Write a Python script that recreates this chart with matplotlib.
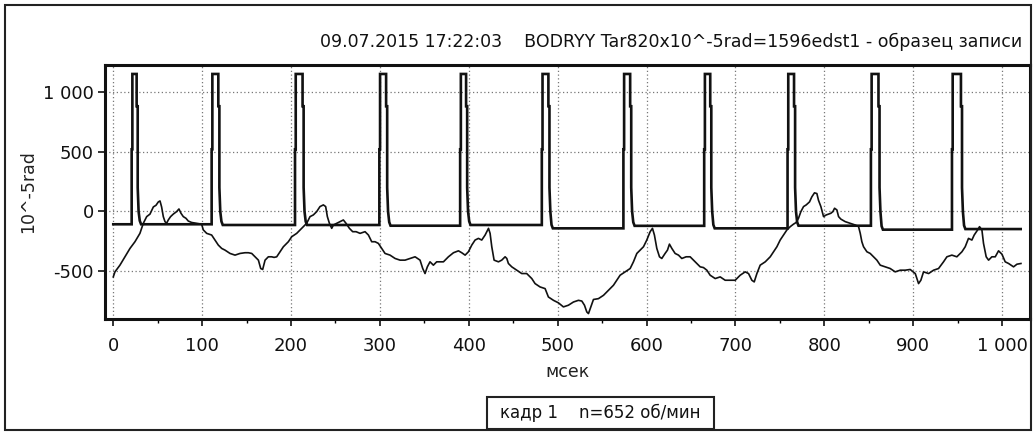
import matplotlib
matplotlib.use("Agg")
import matplotlib.pyplot as plt
from matplotlib.patches import Rectangle
from matplotlib.ticker import MultipleLocator

plt.rcParams["font.family"] = ["DejaVu Sans"]

TITLE = "09.07.2015 17:22:03    BODRYY Tar820x10^-5rad=1596edst1 - образец записи"
FRAME_LABEL = "кадр 1    n=652 об/мин"

# tick labels
x_ticks = [0, 100, 200, 300, 400, 500, 600, 700, 800, 900, 1000]
x_tick_labels = ["0", "100", "200", "300", "400", "500", "600", "700", "800", "900", "1 000"]
y_ticks = [-500, 0, 500, 1000]
y_tick_labels = ["-500", "0", "500", "1 000"]

# once-per-revolution marker pulses (ms)
pulse_rise = [20.7, 110.7, 204.5, 299.4, 390.3, 482.2, 574.0, 664.9, 758.7, 852.5, 943.7]
pulse_fall = [26.3, 118.2, 213.0, 307.0, 397.0, 489.6, 581.6, 671.7, 766.0, 861.0, 953.8]
# level of the marker channel between pulses (before each pulse, last one after the last pulse)
base_levels = [-107, -107, -113, -113, -119, -113, -141, -120, -141, -119, -152, -147]
pulse_top = 1150
rise_step = 520
fall_step = 880
tail_step = 200
marker_end = 1021.0

# torsional angle signal
sig_t = [
    0.0, 1.9, 7.5, 13.2, 18.8, 24.4, 30.0, 33.8, 37.6, 41.3, 45.1, 48.1, 50.7, 52.6, 54.4,
    56.3, 58.2, 60.0, 61.9, 64.5, 67.5, 71.3, 73.9, 76.2, 78.8, 81.8, 84.4, 88.2, 93.8, 99.4,
    101.3, 105.1, 110.7, 114.5, 118.2, 122.0, 125.7, 131.4, 137.0, 142.6, 148.2, 152.0, 155.8,
    159.5, 163.3, 165.9, 168.1, 170.8, 174.5, 178.3, 180.9, 183.9, 187.6, 191.4, 197.0, 200.8,
    206.4, 212.0, 217.6, 221.4, 225.1, 228.9, 232.6, 236.4, 239.0, 240.9, 243.2, 245.8, 247.7,
    251.4, 255.2, 258.9, 261.9, 265.7, 269.4, 273.2, 277.7, 283.3, 287.1, 290.8, 294.6, 298.3,
    302.1, 305.8, 311.4, 317.1, 322.7, 328.3, 333.9, 339.6, 345.2, 348.2, 350.8, 353.4, 356.4,
    360.2, 363.9, 371.5, 377.1, 382.8, 388.4, 392.1, 395.9, 399.6, 403.4, 407.1, 410.9, 414.6,
    418.4, 422.2, 424.0, 425.9, 428.5, 433.4, 437.1, 440.9, 442.8, 444.6, 448.4, 454.0, 459.6,
    465.2, 470.9, 474.6, 480.2, 485.9, 489.6, 495.3, 500.9, 506.5, 512.1, 517.8, 523.4, 527.2,
    530.2, 532.8, 534.7, 537.3, 540.3, 545.9, 551.6, 557.2, 562.8, 566.6, 570.3, 575.9, 581.6,
    585.3, 589.1, 592.8, 596.6, 600.3, 604.1, 606.7, 608.9, 611.6, 614.6, 617.2, 620.9, 623.6,
    625.8, 628.5, 632.2, 636.0, 639.7, 644.6, 649.1, 652.9, 656.6, 660.4, 664.1, 667.9, 671.6,
    677.3, 682.9, 688.5, 694.1, 699.8, 705.4, 711.0, 714.8, 718.5, 721.2, 724.2, 727.9, 733.6,
    739.2, 742.9, 746.7, 750.4, 754.2, 757.9, 761.7, 765.4, 768.4, 771.0, 773.7, 776.7, 779.7,
    783.4, 786.0, 789.0, 791.7, 793.5, 796.2, 799.2, 802.2, 804.8, 807.4, 809.7, 811.6, 814.2,
    816.1, 818.7, 823.6, 829.2, 834.8, 838.6, 840.5, 842.3, 844.2, 848.0, 851.7, 855.5, 859.2,
    863.0, 868.6, 874.2, 879.8, 885.5, 891.1, 896.7, 902.4, 906.1, 908.7, 911.7, 917.4, 923.0,
    928.6, 934.2, 938.0, 943.6, 949.2, 954.9, 958.6, 962.3, 966.1, 968.7, 972.5, 974.7, 977.4,
    979.2, 982.2, 984.9, 988.6, 992.4, 996.1, 999.9, 1003.6, 1007.4, 1013.0, 1016.8, 1021.3,
]
sig_v = [
    -547, -505, -449, -379, -309, -253, -183, -99, -43, -22, 38, 52, 80, 88, 38,
    -43, -85, -99, -71, -43, -22, -1, 21, -15, -43, -57, -80, -92, -99, -106,
    -154, -183, -197, -239, -281, -309, -323, -351, -365, -351, -345, -345, -351,
    -379, -407, -477, -485, -407, -379, -379, -384, -379, -337, -295, -253, -211,
    -183, -141, -99, -43, -29, -1, 41, 55, 41, -43, -99, -141, -113,
    -99, -85, -71, -99, -141, -169, -169, -183, -169, -197, -253, -253, -267,
    -309, -351, -365, -393, -407, -407, -393, -379, -407, -477, -519, -463, -421,
    -449, -421, -421, -379, -345, -329, -345, -365, -337, -281, -239, -225, -239,
    -197, -141, -183, -295, -407, -421, -407, -379, -393, -435, -463, -491, -519,
    -519, -561, -603, -631, -645, -715, -743, -764, -798, -784, -757, -743, -749,
    -784, -840, -854, -798, -736, -729, -701, -659, -617, -575, -533, -505, -477,
    -421, -351, -323, -295, -239, -169, -141, -197, -309, -379, -393, -351, -323,
    -273, -309, -351, -365, -393, -379, -379, -407, -435, -463, -469, -491, -533,
    -561, -547, -575, -575, -575, -533, -505, -519, -575, -589, -519, -449, -421,
    -379, -337, -295, -239, -197, -155, -127, -106, -92, -57, -1, 41, 55,
    80, 122, 156, 150, 94, 41, -43, -29, -22, -15, -1, 27, 13,
    -43, -64, -85, -99, -113, -127, -183, -253, -295, -337, -351, -379, -407,
    -449, -463, -477, -505, -491, -491, -485, -519, -603, -575, -505, -519, -491,
    -477, -421, -379, -365, -379, -337, -295, -225, -239, -197, -155, -127, -155,
    -267, -379, -407, -379, -379, -329, -357, -421, -435, -463, -441, -435,
]


def marker_trace():
    # stepped pulse train: rise through an intermediate step, flat top, stepped decay
    t = [0.0]
    v = [base_levels[0]]
    for i, (tr, tf) in enumerate(zip(pulse_rise, pulse_fall)):
        nxt = base_levels[i + 1]
        t += [tr, tr, tr + 0.8, tr + 0.8, tf, tf, tf + 1.2, tf + 1.2, tf + 2.2, tf + 3.5, tf + 5.0]
        v += [base_levels[i], rise_step, rise_step, pulse_top, pulse_top, fall_step, fall_step,
              tail_step, 0, nxt + 30, nxt]
    t.append(marker_end)
    v.append(base_levels[-1])
    return t, v


fig = plt.figure(figsize=(10.33, 4.32), dpi=100)
ax = fig.add_axes([105 / 1033, 1 - 318.5 / 432, 925 / 1033, 253.5 / 432])

mt, mv = marker_trace()
ax.plot(mt, mv, color="#111111", linewidth=1.9, solid_joinstyle="miter")
ax.plot(sig_t, sig_v, color="#111111", linewidth=1.2)

ax.set_xlim(-9.3, 1031.5)
ax.set_ylim(-895, 1225)
ax.set_xticks(x_ticks)
ax.set_xticklabels(x_tick_labels)
ax.set_yticks(y_ticks)
ax.set_yticklabels(y_tick_labels)
ax.xaxis.set_minor_locator(MultipleLocator(50))
ax.tick_params(axis="both", which="major", labelsize=13, length=5, width=1.2,
               direction="out", colors="#111111")
ax.tick_params(axis="x", which="major", pad=8)
ax.tick_params(axis="y", which="major", pad=3)
ax.tick_params(axis="x", which="minor", length=3, width=1)
ax.grid(True, which="major", linestyle=(0, (1, 2)), color="#777777", linewidth=0.9)

for side in ["left", "bottom", "top", "right"]:
    ax.spines[side].set_linewidth(2.2)
    ax.spines[side].set_color("#111111")

ax.set_xlabel("мсек", fontsize=12.5, labelpad=6, color="#222222")
ax.set_ylabel("10^-5rad", fontsize=12.5, labelpad=4, color="#222222")

fig.text(1022 / 1033, 1 - 42 / 432, TITLE, ha="right", va="center", fontsize=12.5, color="#111111")

# outer frame of the report window
fig.patches.append(Rectangle((5 / 1033, 2 / 432), 1026 / 1033, 425 / 432, transform=fig.transFigure,
                             fill=False, edgecolor="#222222", linewidth=1.5))

# frame caption box
fig.patches.append(Rectangle((487 / 1033, 1 - 429 / 432), 227 / 1033, 32 / 432,
                             transform=fig.transFigure, facecolor="white",
                             edgecolor="#222222", linewidth=1.5))
fig.text(600.5 / 1033, 1 - 413 / 432, FRAME_LABEL, ha="center", va="center", fontsize=12, color="#111111")

fig.savefig("out.png", dpi=100)
